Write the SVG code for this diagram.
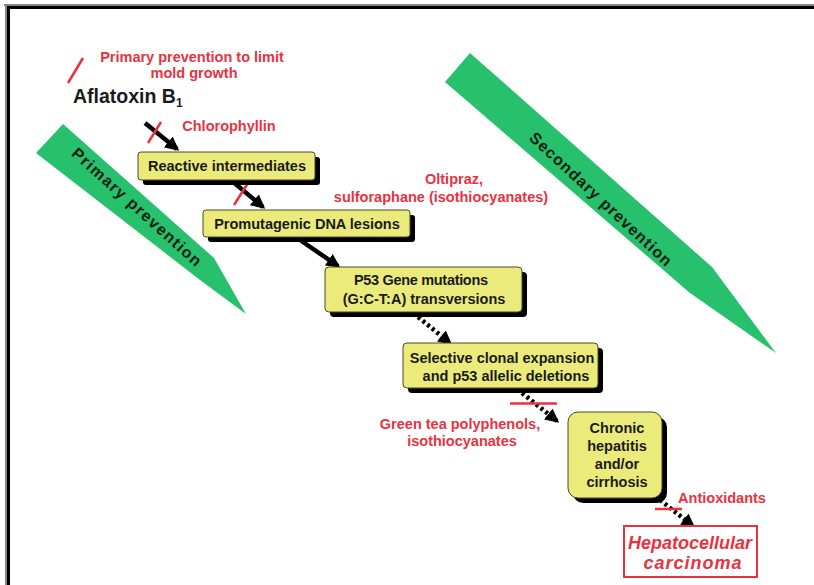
<svg xmlns="http://www.w3.org/2000/svg" width="814" height="585" viewBox="0 0 814 585">
<defs>
<style>
.box{fill:#ebeb7c;stroke:#4a4a20;stroke-width:1}
.sh{fill:#000}
.bt{font-family:"Liberation Sans",Arial,sans-serif;font-weight:bold;font-size:14.5px;fill:#1a1a1a;text-anchor:middle}
.rt{font-family:"Liberation Sans",Arial,sans-serif;font-weight:bold;font-size:14.5px;fill:#e8323f;text-anchor:middle}
.gt{font-family:"Liberation Sans",Arial,sans-serif;font-weight:bold;font-size:16px;fill:#0a1f12;text-anchor:middle}
.green{fill:#27c06c}
.arr{stroke:#000;stroke-width:4.5;fill:none}
.dot{stroke:#000;stroke-width:4.5;fill:none;stroke-dasharray:3 3}
.red{stroke:#e8323f;stroke-width:2.5;fill:none}
</style>
<marker id="ah" viewBox="0 0 10 10" refX="8" refY="5" markerWidth="14" markerHeight="14" markerUnits="userSpaceOnUse" orient="auto">
<path d="M0,0 L10,5 L0,10 z" fill="#000"/>
</marker>
</defs>
<rect width="814" height="585" fill="#fff"/>
<g id="frame">
<line x1="4" y1="5" x2="814" y2="5" stroke="#888" stroke-width="2"/>
<line x1="6" y1="7.5" x2="814" y2="7.5" stroke="#000" stroke-width="3"/>
<line x1="6" y1="5" x2="6" y2="585" stroke="#888" stroke-width="2"/>
<line x1="8.5" y1="7" x2="8.5" y2="585" stroke="#000" stroke-width="3"/>
</g>
<g id="primary-prevention">
<path class="green" d="M63,124 L214,258 L246,314 L200,280 L36,153 Z"/>
<text class="gt" transform="translate(133,211) rotate(42)" textLength="168">Primary prevention</text>
</g>
<g id="secondary-prevention">
<path class="green" d="M470,53 L712,267 L776,353 L690,293 L445,82 Z"/>
<text class="gt" transform="translate(597,203) rotate(43)" textLength="188">Secondary prevention</text>
</g>
<g id="mold-note">
<line class="red" x1="68" y1="83" x2="83" y2="58"/>
<text class="rt" x="192" y="62">Primary prevention to limit</text>
<text class="rt" x="194" y="78">mold growth</text>
</g>
<g id="aflatoxin">
<text x="73" y="103" font-family="'Liberation Sans',Arial,sans-serif" font-weight="bold" font-size="19.5" fill="#1a1a1a">Aflatoxin B<tspan font-size="12" dy="4">1</tspan></text>
</g>
<g id="connectors">
<line class="arr" x1="145" y1="123" x2="177" y2="149" marker-end="url(#ah)"/>
<line class="arr" x1="232" y1="181" x2="263" y2="207" marker-end="url(#ah)"/>
<line class="arr" x1="300" y1="240" x2="338" y2="266" marker-end="url(#ah)"/>
<line class="dot" x1="418" y1="317" x2="450" y2="343" marker-end="url(#ah)"/>
<line class="dot" x1="522" y1="393" x2="557" y2="421" marker-end="url(#ah)"/>
<line class="dot" x1="660" y1="500" x2="693" y2="526" marker-end="url(#ah)"/>
<line class="red" x1="148" y1="143" x2="161" y2="122"/>
<line class="red" x1="234" y1="205" x2="248" y2="183"/>
<line class="red" x1="510" y1="403.5" x2="557" y2="403.5"/>
<line class="red" x1="655" y1="509" x2="682" y2="509"/>
</g>
<g id="chlorophyllin">
<text class="rt" x="229" y="131">Chlorophyllin</text>
</g>
<g id="reactive">
<rect class="sh" x="143" y="157" width="177" height="28" rx="3"/>
<rect class="box" x="138" y="152" width="177" height="28" rx="3"/>
<text class="bt" x="227" y="171">Reactive intermediates</text>
</g>
<g id="oltipraz">
<text class="rt" x="454" y="184">Oltipraz,</text>
<text class="rt" x="441" y="202">sulforaphane (isothiocyanates)</text>
</g>
<g id="promutagenic">
<rect class="sh" x="208" y="215" width="207" height="27" rx="3"/>
<rect class="box" x="203" y="210" width="207" height="27" rx="3"/>
<text class="bt" x="307" y="229">Promutagenic DNA lesions</text>
</g>
<g id="p53">
<rect class="sh" x="330" y="272" width="197" height="45" rx="4"/>
<rect class="box" x="325" y="267" width="197" height="45" rx="4"/>
<text class="bt" x="421" y="285" textLength="134">P53 Gene mutations</text>
<text class="bt" x="424" y="304">(G:C-T:A) transversions</text>
</g>
<g id="selective">
<rect class="sh" x="408" y="348" width="195" height="45" rx="4"/>
<rect class="box" x="403" y="343" width="195" height="45" rx="4"/>
<text class="bt" x="502" y="363">Selective clonal expansion</text>
<text class="bt" x="506" y="381">and p53 allelic deletions</text>
</g>
<g id="green-tea">
<text class="rt" x="460" y="429">Green tea polyphenols,</text>
<text class="rt" x="462" y="446">isothiocyanates</text>
</g>
<g id="chronic">
<rect class="sh" x="573" y="417" width="94" height="86" rx="10"/>
<rect class="box" x="568" y="412" width="94" height="86" rx="10"/>
<text class="bt" x="617" y="433">Chronic</text>
<text class="bt" x="617" y="451">hepatitis</text>
<text class="bt" x="617" y="469">and/or</text>
<text class="bt" x="617" y="487">cirrhosis</text>
</g>
<g id="antioxidants">
<text class="rt" x="722" y="503">Antioxidants</text>
</g>
<g id="hcc">
<rect x="624" y="526" width="133" height="51" fill="#fff" stroke="#e8323f" stroke-width="2"/>
<text x="690" y="549" font-family="'Liberation Sans',Arial,sans-serif" font-weight="bold" font-style="italic" font-size="18" fill="#e8323f" text-anchor="middle">Hepatocellular</text>
<text x="693" y="569" font-family="'Liberation Sans',Arial,sans-serif" font-weight="bold" font-style="italic" font-size="18" fill="#e8323f" text-anchor="middle" letter-spacing="1">carcinoma</text>
</g>
</svg>
